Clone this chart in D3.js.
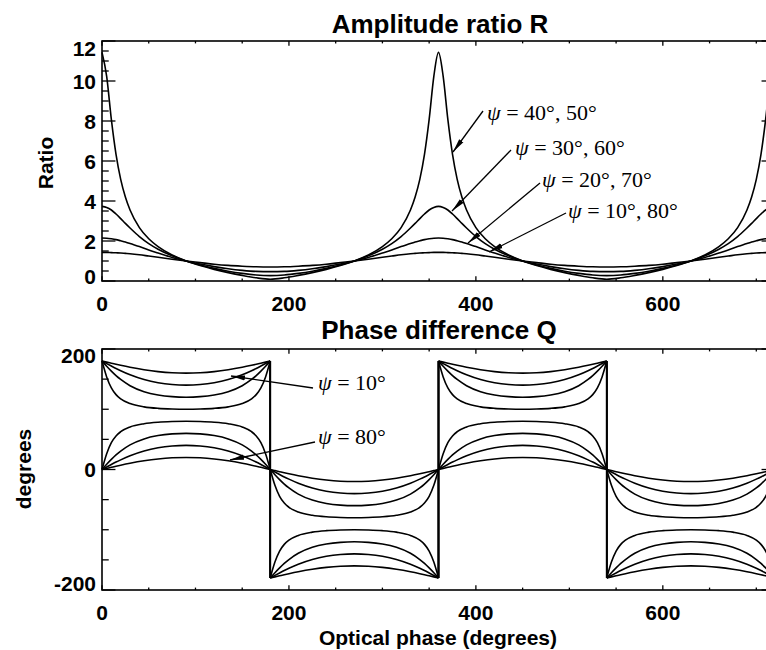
<!DOCTYPE html>
<html><head><meta charset="utf-8">
<script src="https://cdn.jsdelivr.net/npm/d3@7/dist/d3.min.js"></script>
<style>body{margin:0;background:#fff}svg{display:block;background:#fff}</style>
</head><body><svg id="c" width="766" height="650"></svg>
<script>
// ---------------- data ----------------
const phaseR = [0,5,10,15,20,25,30,40,50,60,75,90,105,120,135,150,165,180,
  195,210,225,240,255,270,285,300,310,320,330,335,340,345,350,355,360,
  365,370,375,380,385,390,400,410,420,435,450,465,480,495,510,525,540,
  555,570,585,600,615,630,645,660,670,680,690,695,700,705,710,715,720];
const ratio40 = [11.43,10.23,8.08,6.33,5.08,4.20,3.55,2.67,2.11,1.72,1.30,1.00,0.77,0.58,0.42,0.28,0.16,0.09,
  0.16,0.28,0.42,0.58,0.77,1.00,1.30,1.72,2.11,2.67,3.55,4.20,5.08,6.33,8.08,10.23,11.43,
  10.23,8.08,6.33,5.08,4.20,3.55,2.67,2.11,1.72,1.30,1.00,0.77,0.58,0.42,0.28,0.16,0.09,
  0.16,0.28,0.42,0.58,0.77,1.00,1.30,1.72,2.11,2.67,3.55,4.20,5.08,6.33,8.08,10.23,11.43];
const ratio30 = [3.73,3.68,3.55,3.35,3.12,2.88,2.65,2.22,1.87,1.59,1.26,1.00,0.80,0.63,0.49,0.38,0.30,0.27,
  0.30,0.38,0.49,0.63,0.80,1.00,1.26,1.59,1.87,2.22,2.65,2.88,3.12,3.35,3.55,3.68,3.73,
  3.68,3.55,3.35,3.12,2.88,2.65,2.22,1.87,1.59,1.26,1.00,0.80,0.63,0.49,0.38,0.30,0.27,
  0.30,0.38,0.49,0.63,0.80,1.00,1.26,1.59,1.87,2.22,2.65,2.88,3.12,3.35,3.55,3.68,3.73];
const ratio20 = [2.15,2.14,2.11,2.07,2.01,1.95,1.87,1.72,1.55,1.40,1.18,1.00,0.85,0.72,0.61,0.53,0.48,0.47,
  0.48,0.53,0.61,0.72,0.85,1.00,1.18,1.40,1.55,1.72,1.87,1.95,2.01,2.07,2.11,2.14,2.15,
  2.14,2.11,2.07,2.01,1.95,1.87,1.72,1.55,1.40,1.18,1.00,0.85,0.72,0.61,0.53,0.48,0.47,
  0.48,0.53,0.61,0.72,0.85,1.00,1.18,1.40,1.55,1.72,1.87,1.95,2.01,2.07,2.11,2.14,2.15];
const ratio10 = [1.43,1.43,1.42,1.41,1.40,1.38,1.36,1.31,1.25,1.19,1.09,1.00,0.92,0.84,0.78,0.74,0.71,0.70,
  0.71,0.74,0.78,0.84,0.92,1.00,1.09,1.19,1.25,1.31,1.36,1.38,1.40,1.41,1.42,1.43,1.43,
  1.43,1.42,1.41,1.40,1.38,1.36,1.31,1.25,1.19,1.09,1.00,0.92,0.84,0.78,0.74,0.71,0.70,
  0.71,0.74,0.78,0.84,0.92,1.00,1.09,1.19,1.25,1.31,1.36,1.38,1.40,1.41,1.42,1.43,1.43];

const phaseQ = [0,5,10,15,20,30,45,60,75,90,105,120,135,150,160,165,170,175,180,
  180,185,190,195,200,210,225,240,255,270,285,300,315,330,340,345,350,355,360,
  360,365,370,375,380,390,405,420,435,450,465,480,495,510,520,525,530,535,540,
  540,545,550,555,560,570,585,600,615,630,645,660,675,690,700,705,710,715,720];
const diff10 = [180,178.2,176.4,174.6,172.9,169.7,165.6,162.5,160.6,160,160.6,162.5,165.6,169.7,172.9,174.6,176.4,178.2,180,
  -180,-178.2,-176.4,-174.6,-172.9,-169.7,-165.6,-162.5,-160.6,-160,-160.6,-162.5,-165.6,-169.7,-172.9,-174.6,-176.4,-178.2,-180,
  180,178.2,176.4,174.6,172.9,169.7,165.6,162.5,160.6,160,160.6,162.5,165.6,169.7,172.9,174.6,176.4,178.2,180,
  -180,-178.2,-176.4,-174.6,-172.9,-169.7,-165.6,-162.5,-160.6,-160,-160.6,-162.5,-165.6,-169.7,-172.9,-174.6,-176.4,-178.2,-180];
const diff20 = [180,175.8,171.7,167.7,164.0,157.2,149.3,144.0,141.0,140,141.0,144.0,149.3,157.2,164.0,167.7,171.7,175.8,180,
  -180,-175.8,-171.7,-167.7,-164.0,-157.2,-149.3,-144.0,-141.0,-140,-141.0,-144.0,-149.3,-157.2,-164.0,-167.7,-171.7,-175.8,-180,
  180,175.8,171.7,167.7,164.0,157.2,149.3,144.0,141.0,140,141.0,144.0,149.3,157.2,164.0,167.7,171.7,175.8,180,
  -180,-175.8,-171.7,-167.7,-164.0,-157.2,-149.3,-144.0,-141.0,-140,-141.0,-144.0,-149.3,-157.2,-164.0,-167.7,-171.7,-175.8,-180];
const diff30 = [180,171.4,163.3,155.8,149.4,139.1,129.2,123.7,120.9,120,120.9,123.7,129.2,139.1,149.4,155.8,163.3,171.4,180,
  -180,-171.4,-163.3,-155.8,-149.4,-139.1,-129.2,-123.7,-120.9,-120,-120.9,-123.7,-129.2,-139.1,-149.4,-155.8,-163.3,-171.4,-180,
  180,171.4,163.3,155.8,149.4,139.1,129.2,123.7,120.9,120,120.9,123.7,129.2,139.1,149.4,155.8,163.3,171.4,180,
  -180,-171.4,-163.3,-155.8,-149.4,-139.1,-129.2,-123.7,-120.9,-120,-120.9,-123.7,-129.2,-139.1,-149.4,-155.8,-163.3,-171.4,-180];
const diff40 = [180,153.7,135.4,124.3,117.3,109.4,104.0,101.5,100.4,100,100.4,101.5,104.0,109.4,117.3,124.3,135.4,153.7,180,
  -180,-153.7,-135.4,-124.3,-117.3,-109.4,-104.0,-101.5,-100.4,-100,-100.4,-101.5,-104.0,-109.4,-117.3,-124.3,-135.4,-153.7,-180,
  180,153.7,135.4,124.3,117.3,109.4,104.0,101.5,100.4,100,100.4,101.5,104.0,109.4,117.3,124.3,135.4,153.7,180,
  -180,-153.7,-135.4,-124.3,-117.3,-109.4,-104.0,-101.5,-100.4,-100,-100.4,-101.5,-104.0,-109.4,-117.3,-124.3,-135.4,-153.7,-180];
const diff50 = [0,26.3,44.6,55.7,62.7,70.6,76.0,78.5,79.6,80,79.6,78.5,76.0,70.6,62.7,55.7,44.6,26.3,0,
  0,-26.3,-44.6,-55.7,-62.7,-70.6,-76.0,-78.5,-79.6,-80,-79.6,-78.5,-76.0,-70.6,-62.7,-55.7,-44.6,-26.3,0,
  0,26.3,44.6,55.7,62.7,70.6,76.0,78.5,79.6,80,79.6,78.5,76.0,70.6,62.7,55.7,44.6,26.3,0,
  0,-26.3,-44.6,-55.7,-62.7,-70.6,-76.0,-78.5,-79.6,-80,-79.6,-78.5,-76.0,-70.6,-62.7,-55.7,-44.6,-26.3,0];
const diff60 = [0,8.6,16.7,24.2,30.6,40.9,50.8,56.3,59.1,60,59.1,56.3,50.8,40.9,30.6,24.2,16.7,8.6,0,
  0,-8.6,-16.7,-24.2,-30.6,-40.9,-50.8,-56.3,-59.1,-60,-59.1,-56.3,-50.8,-40.9,-30.6,-24.2,-16.7,-8.6,0,
  0,8.6,16.7,24.2,30.6,40.9,50.8,56.3,59.1,60,59.1,56.3,50.8,40.9,30.6,24.2,16.7,8.6,0,
  0,-8.6,-16.7,-24.2,-30.6,-40.9,-50.8,-56.3,-59.1,-60,-59.1,-56.3,-50.8,-40.9,-30.6,-24.2,-16.7,-8.6,0];
const diff70 = [0,4.2,8.3,12.3,16.0,22.8,30.7,36.0,39.0,40,39.0,36.0,30.7,22.8,16.0,12.3,8.3,4.2,0,
  0,-4.2,-8.3,-12.3,-16.0,-22.8,-30.7,-36.0,-39.0,-40,-39.0,-36.0,-30.7,-22.8,-16.0,-12.3,-8.3,-4.2,0,
  0,4.2,8.3,12.3,16.0,22.8,30.7,36.0,39.0,40,39.0,36.0,30.7,22.8,16.0,12.3,8.3,4.2,0,
  0,-4.2,-8.3,-12.3,-16.0,-22.8,-30.7,-36.0,-39.0,-40,-39.0,-36.0,-30.7,-22.8,-16.0,-12.3,-8.3,-4.2,0];
const diff80 = [0,1.8,3.6,5.4,7.1,10.3,14.4,17.5,19.4,20,19.4,17.5,14.4,10.3,7.1,5.4,3.6,1.8,0,
  0,-1.8,-3.6,-5.4,-7.1,-10.3,-14.4,-17.5,-19.4,-20,-19.4,-17.5,-14.4,-10.3,-7.1,-5.4,-3.6,-1.8,0,
  0,1.8,3.6,5.4,7.1,10.3,14.4,17.5,19.4,20,19.4,17.5,14.4,10.3,7.1,5.4,3.6,1.8,0,
  0,-1.8,-3.6,-5.4,-7.1,-10.3,-14.4,-17.5,-19.4,-20,-19.4,-17.5,-14.4,-10.3,-7.1,-5.4,-3.6,-1.8,0];

const phaseTicks = [0, 200, 400, 600, 800];
const ratioTicks = [0, 2, 4, 6, 8, 10, 12];
const degreeTicks = [-200, 0, 200];
const ratioNotes = ["40°, 50°", "30°, 60°", "20°, 70°", "10°, 80°"];
const phaseNotes = ["10°", "80°"];

// ---------------- layout ----------------
const svg = d3.select("#c");
const SANS = "'Liberation Sans', Arial, Helvetica, sans-serif";
const SERIF = "'Liberation Serif', 'Times New Roman', serif";

const x = d3.scaleLinear().domain([0, 720]).range([102, 775]);
const yR = d3.scaleLinear().domain([0, 12]).range([281, 41]);
const yQ = d3.scaleLinear().domain([-200, 200]).range([590, 349]);

const defs = svg.append("defs");
defs.append("marker").attr("id", "ah").attr("markerUnits", "userSpaceOnUse")
  .attr("viewBox", "0 0 14 6").attr("refX", 14).attr("refY", 3)
  .attr("markerWidth", 14).attr("markerHeight", 6).attr("orient", "auto")
  .append("path").attr("d", "M0,0.4 L14,3 L0,5.6 Z").attr("fill", "#000");

function panel(y, yTicks, yMinorStep, xMinorStep, labelShift) {
  const g = svg.append("g");
  const [x0, x1] = x.range();
  const [yb, yt] = y.range();
  const lenY = 0.02 * (x1 - x0), lenX = 0.02 * (yb - yt);
  const ticks = g.append("g").attr("stroke", "#000").attr("stroke-width", 1.3);
  // x ticks (bottom & top)
  const xMajor = phaseTicks.filter(v => v <= 720);
  const xMinor = d3.range(0, 721, xMinorStep).filter(v => !xMajor.includes(v));
  [[xMajor, lenX], [xMinor, lenX / 2]].forEach(([vals, L]) => {
    vals.forEach(v => {
      ticks.append("line").attr("x1", x(v)).attr("x2", x(v)).attr("y1", yb).attr("y2", yb - L);
      ticks.append("line").attr("x1", x(v)).attr("x2", x(v)).attr("y1", yt).attr("y2", yt + L);
    });
  });
  const [d0, d1] = y.domain();
  const yMinor = d3.range(d0, d1 + 1e-9, yMinorStep).filter(v => !yTicks.some(t => Math.abs(t - v) < 1e-9));
  [[yTicks, lenY], [yMinor, lenY / 2]].forEach(([vals, L]) => {
    vals.forEach(v => {
      ticks.append("line").attr("y1", y(v)).attr("y2", y(v)).attr("x1", x0).attr("x2", x0 + L);
      ticks.append("line").attr("y1", y(v)).attr("y2", y(v)).attr("x1", x1).attr("x2", x1 - L);
    });
  });
  g.append("rect").attr("x", x0).attr("y", yt).attr("width", x1 - x0).attr("height", yb - yt)
    .attr("fill", "none").attr("stroke", "#000").attr("stroke-width", 1.6);
  // labels
  const lab = g.append("g").attr("font-family", SANS).attr("font-weight", "bold").attr("font-size", 21).attr("fill", "#000");
  xMajor.forEach(v => lab.append("text").attr("x", x(v)).attr("y", yb + 22)
    .attr("text-anchor", "middle").attr("dominant-baseline", "central").text(v));
  yTicks.forEach((v, i) => {
    let dy = 0;
    if (i === 0) dy = -labelShift[0];
    if (i === yTicks.length - 1) dy = labelShift[1];
    lab.append("text").attr("x", 96).attr("y", y(v) + dy)
      .attr("text-anchor", "end").attr("dominant-baseline", "central").text(v);
  });
  return g;
}

panel(yR, ratioTicks, 0.5, 50, [5, 7]);
panel(yQ, degreeTicks, 50, 50, [7, 6]);

// ---------------- curves ----------------
const curves = svg.append("g").attr("fill", "none").attr("stroke", "#000").attr("stroke-width", 1.6)
  .attr("stroke-linejoin", "round");

const lineR = d3.line().x(d => x(d[0])).y(d => yR(d[1])).curve(d3.curveMonotoneX);
[ratio40, ratio30, ratio20, ratio10].forEach(s => {
  curves.append("path").attr("d", lineR(phaseR.map((p, i) => [p, s[i]])));
});

const lineQ = d3.line().x(d => x(d[0])).y(d => yQ(d[1])).curve(d3.curveMonotoneX);
[diff10, diff20, diff30, diff40, diff50, diff60, diff70, diff80].forEach(s => {
  const runs = [];
  let cur = [];
  phaseQ.forEach((p, i) => {
    if (i > 0 && p === phaseQ[i - 1]) { runs.push(cur); cur = []; }
    cur.push([p, s[i]]);
  });
  runs.push(cur);
  let d = runs.map(r => lineQ(r)).join("");
  for (let k = 1; k < runs.length; k++) {
    const a = runs[k - 1][runs[k - 1].length - 1], b = runs[k][0];
    if (a[1] !== b[1]) d += `M${x(a[0])},${yQ(a[1])}L${x(b[0])},${yQ(b[1])}`;
  }
  curves.append("path").attr("d", d);
});

// ---------------- titles ----------------
const T = svg.append("g").attr("font-family", SANS).attr("font-weight", "bold").attr("fill", "#000");
T.append("text").attr("x", 440).attr("y", 33).attr("text-anchor", "middle").attr("font-size", 26).text("Amplitude ratio R");
T.append("text").attr("x", 439).attr("y", 339).attr("text-anchor", "middle").attr("font-size", 26).text("Phase difference Q");
T.append("text").attr("x", 438).attr("y", 645).attr("text-anchor", "middle").attr("font-size", 21).text("Optical phase (degrees)");
T.append("text").attr("transform", "translate(53,163) rotate(-90)").attr("text-anchor", "middle").attr("font-size", 21).text("Ratio");
T.append("text").attr("transform", "translate(31,469) rotate(-90)").attr("text-anchor", "middle").attr("font-size", 21).text("degrees");

// ---------------- annotations ----------------
const noteLayout = [
  { text: ratioNotes[0], tx: 487, ty: 120, from: [483, 111], to: [453, 152] },
  { text: ratioNotes[1], tx: 515, ty: 155, from: [511, 150], to: [452, 211] },
  { text: ratioNotes[2], tx: 542, ty: 187, from: [540, 183], to: [468, 243] },
  { text: ratioNotes[3], tx: 568, ty: 218, from: [566, 213], to: [489, 252] },
  { text: phaseNotes[0], tx: 318, ty: 390, from: [313, 388], to: [231, 376] },
  { text: phaseNotes[1], tx: 318, ty: 444, from: [315, 442], to: [230, 460] }
];
const N = svg.append("g");
noteLayout.forEach(n => {
  N.append("line").attr("x1", n.from[0]).attr("y1", n.from[1]).attr("x2", n.to[0]).attr("y2", n.to[1])
    .attr("stroke", "#000").attr("stroke-width", 1.3).attr("marker-end", "url(#ah)");
  const t = N.append("text").attr("x", n.tx).attr("y", n.ty).attr("font-family", SERIF).attr("font-size", 22).attr("fill", "#000");
  t.append("tspan").attr("font-style", "italic").text("ψ");
  t.append("tspan").text(" = " + n.text);
});
</script>
</body></html>
